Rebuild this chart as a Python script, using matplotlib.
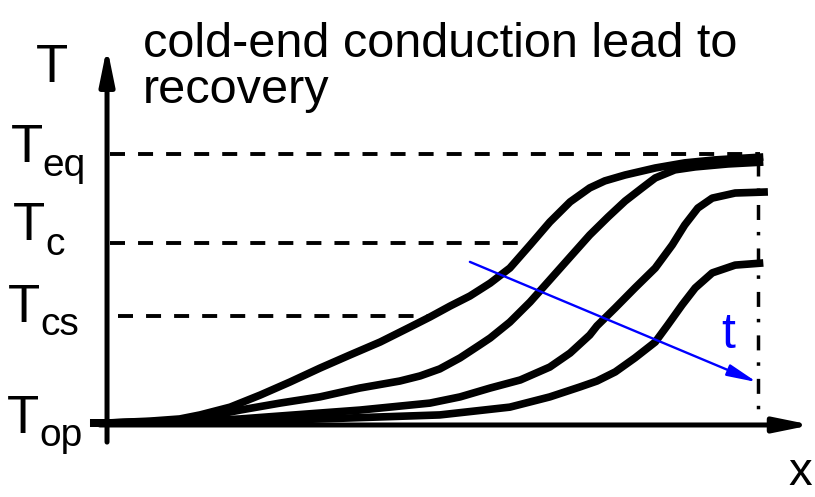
import matplotlib
matplotlib.use("Agg")
import matplotlib.pyplot as plt
from matplotlib import font_manager

W, H = 815, 497

# temperature profiles along x at four times (T_op = 0, T_eq = 100)
x1 = [-2.6, 0, 6.6, 11.1, 14.2, 18.8, 23.4, 27.9, 32.5, 37.1, 41.7, 46.3, 49.3, 52.4, 55.4,
      58.5, 61.5, 64.6, 67.6, 70.7, 73.7, 76.0, 79.1, 83.7, 88.2, 92.8, 100.2]
T1 = [0, 0, 0.7, 1.5, 3.0, 5.9, 10.4, 15.2, 20.4, 25.3, 30.1, 35.7, 39.4, 43.5, 47.2,
      52.0, 57.6, 66.2, 74.7, 82.2, 87.4, 90.0, 92.2, 94.8, 96.7, 97.8, 98.9]

x2 = [-2.6, 0, 9.6, 14.2, 20.3, 26.4, 32.5, 38.6, 44.7, 47.8, 50.8, 53.9, 56.9, 58.5, 61.5,
      64.6, 67.6, 70.7, 73.7, 76.5, 79.1, 81.7, 83.7, 86.7, 89.8, 94.8, 100.2]
T2 = [0, 0, 0.7, 1.9, 4.8, 7.4, 9.7, 13.0, 15.6, 17.5, 20.1, 24.2, 29.0, 31.6, 37.5,
      45.0, 53.2, 61.7, 69.9, 76.6, 82.5, 87.4, 91.1, 94.1, 95.2, 96.3, 97.0]

x3 = [-2.6, 0, 14.2, 20.3, 26.4, 38.6, 49.3, 53.9, 58.5, 63.1, 67.6, 70.7, 73.7, 74.8,
      77.6, 80.6, 83.7, 86.3, 88.2, 90.2, 92.4, 95.9, 100.9]
T3 = [0, 0, 0.7, 1.5, 2.6, 4.8, 7.4, 9.7, 13.0, 16.0, 20.8, 26.0, 32.7, 36.1,
      42.8, 50.2, 57.6, 66.2, 73.6, 79.9, 83.6, 85.5, 85.9]

x4 = [-2.6, 0, 21.8, 32.5, 50.8, 61.5, 67.6, 72.2, 74.8, 77.6, 80.6, 83.7, 85.6, 87.8,
      89.8, 92.4, 95.9, 100.2]
T4 = [0, 0, 0.7, 1.5, 3.0, 5.9, 9.7, 13.4, 15.6, 19.0, 24.2, 30.1, 36.4, 43.9,
      50.2, 55.8, 58.7, 59.5]

# reference levels and where their dashed guides stop
levels = [100, 66.9, 39.8]
level_start = [0.5, 0.5, 1.7]
level_end = [99.7, 64.1, 49.3]

x_end = 99.4          # dash-dot line at end of conductor
x_end_top = 97.5
t_arrow = [(55.4, 59.9), (99.2, 15.2)]

names = {f.name for f in font_manager.fontManager.ttflist}
if "Liberation Sans Narrow" in names:
    title_font, title_size = "Liberation Sans Narrow", 42
else:
    title_font, title_size = "Liberation Sans", 35
lab_font = "Liberation Sans"

plt.rcParams["lines.scale_dashes"] = False

fig = plt.figure(figsize=(W / 100, H / 100), dpi=100)
ax = fig.add_axes([0, 0, 1, 1])
ax.set_xlim(-16.34, 108.09)
ax.set_ylim(-27.51, 157.25)
ax.axis("off")

# axes with arrows
ax.annotate("", xy=(0, 139.8), xytext=(0, -7.1),
            arrowprops=dict(arrowstyle="-|>,head_length=1.08,head_width=0.22",
                            mutation_scale=20, lw=3.6, color="black",
                            shrinkA=0, shrinkB=0))
ax.annotate("", xy=(107.6, -0.74), xytext=(-1.1, -0.74),
            arrowprops=dict(arrowstyle="-|>,head_length=1.08,head_width=0.22",
                            mutation_scale=20, lw=3.6, color="black",
                            shrinkA=0, shrinkB=0))

for lv, xs, xe in zip(levels, level_start, level_end):
    ax.plot([xs, xe], [lv, lv], color="black", lw=2.8,
            linestyle=(0, (10.8, 9.4)), solid_capstyle="butt")

ax.plot([x_end, x_end], [x_end_top, 1.0], color="black", lw=2.5,
        linestyle=(0, (10.8, 8.6, 2.5, 9.4)))

for xs, ts in [(x1, T1), (x2, T2), (x3, T3), (x4, T4)]:
    ax.plot(xs, ts, color="black", lw=5.5, solid_capstyle="butt",
            solid_joinstyle="round", zorder=3)

ax.annotate("", xy=t_arrow[1], xytext=t_arrow[0],
            arrowprops=dict(arrowstyle="-|>,head_length=0.9,head_width=0.18",
                            mutation_scale=20, lw=1.7, color="#0000ff",
                            shrinkA=0, shrinkB=0), zorder=4)


def label(px, py, s, size, color="black", family=lab_font):
    fig.text(px / W, 1 - py / H, s, fontsize=size, color=color,
             family=family, va="baseline", ha="left")


label(143, 57, "cold-end conduction lead to", title_size, family=title_font)
label(143, 103, "recovery", title_size, family=title_font)

label(36, 82, "T", 38)
label(11, 162, "T", 38)
label(42, 176, "eq", 28)
label(13, 240, "T", 38)
label(45, 255, "c", 28)
label(8, 322, "T", 38)
label(40, 335, "cs", 28)
label(7, 433, "T", 38)
label(39, 446, "op", 28)
label(721, 348, "t", 36, color="#0000ff")
label(788, 485, "x", 34)

fig.savefig("out.png", dpi=100)
